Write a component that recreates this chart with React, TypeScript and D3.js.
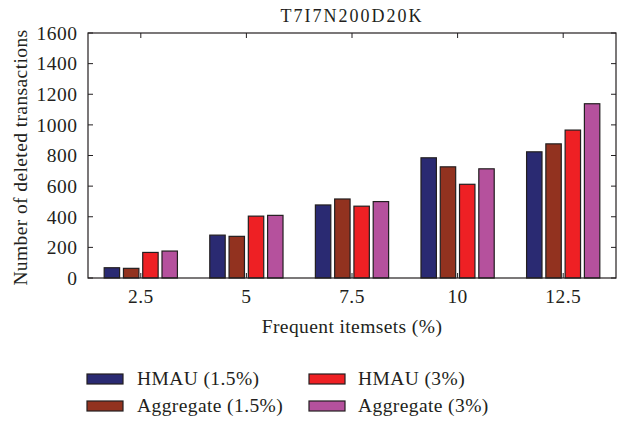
import React, { useEffect, useRef } from 'react';
import * as d3 from 'd3';

const categories = ['2.5', '5', '7.5', '10', '12.5'];
const seriesNames = ['HMAU (1.5%)', 'Aggregate (1.5%)', 'HMAU (3%)', 'Aggregate (3%)'];
const hmau15 = [67, 280, 477, 785, 824];
const aggregate15 = [63, 272, 516, 726, 876];
const hmau3 = [167, 404, 469, 612, 966];
const aggregate3 = [176, 409, 499, 713, 1138];
const yTicks = [0, 200, 400, 600, 800, 1000, 1200, 1400, 1600];
const colors = ['#2a2a72', '#92321f', '#ee2024', '#b5519d'];

const App: React.FC = () => {
	const svgRef = useRef<SVGSVGElement | null>(null);

	useEffect(() => {
		if (svgRef.current == null) return;

		const width = 617;
		const height = 422;
		const margin = { top: 33, right: 1, bottom: 144, left: 88 };
		const innerWidth = width - margin.left - margin.right;
		const innerHeight = height - margin.top - margin.bottom;
		const font = '"Liberation Serif", serif';
		const ink = '#231f20';
		const fs = 19.5;
		const ls = 0.4;

		const values = [hmau15, aggregate15, hmau3, aggregate3];

		const x0 = d3.scaleBand()
			.domain(categories)
			.range([0, innerWidth])
			.paddingInner(0.27)
			.paddingOuter(0.135);

		const x1 = d3.scaleBand()
			.domain(seriesNames)
			.range([0, x0.bandwidth()])
			.paddingInner(0.2)
			.paddingOuter(0.1);

		const yScale = d3.scaleLinear()
			.domain([0, 1600])
			.range([innerHeight, 0]);

		const svg = d3.select(svgRef.current);
		svg.selectAll('*').remove();
		svg.attr('width', width).attr('height', height);

		svg.append('text')
			.attr('x', margin.left + innerWidth / 2)
			.attr('y', 21.5)
			.attr('text-anchor', 'middle')
			.attr('font-family', font)
			.attr('font-size', 18)
			.attr('letter-spacing', 2)
			.attr('fill', ink)
			.text('T7I7N200D20K');

		const g = svg.append('g')
			.attr('transform', `translate(${margin.left},${margin.top})`);

		// bars
		seriesNames.forEach((name, si) => {
			g.append('g')
				.selectAll('rect')
				.data(values[si])
				.enter()
				.append('rect')
				.attr('x', (d, i) => (x0(categories[i]) || 0) + (x1(name) || 0))
				.attr('y', d => yScale(d))
				.attr('width', x1.bandwidth())
				.attr('height', d => innerHeight - yScale(d))
				.attr('fill', colors[si])
				.attr('stroke', ink)
				.attr('stroke-width', 1.2);
		});

		// frame
		g.append('rect')
			.attr('width', innerWidth)
			.attr('height', innerHeight)
			.attr('fill', 'none')
			.attr('stroke', ink)
			.attr('stroke-width', 1.2);

		const tickLen = 5;

		// y ticks, left and right (inward)
		yTicks.forEach(t => {
			const y = yScale(t);
			g.append('line').attr('x1', 0).attr('x2', tickLen).attr('y1', y).attr('y2', y)
				.attr('stroke', ink);
			g.append('line').attr('x1', innerWidth).attr('x2', innerWidth - tickLen).attr('y1', y).attr('y2', y)
				.attr('stroke', ink);
			g.append('text')
				.attr('x', -10.5)
				.attr('y', y)
				.attr('dy', '0.35em')
				.attr('text-anchor', 'end')
				.attr('font-family', font)
				.attr('font-size', fs)
				.attr('letter-spacing', 0.5)
				.attr('fill', ink)
				.text(t);
		});

		// x ticks, top and bottom (inward)
		categories.forEach(c => {
			const x = (x0(c) || 0) + x0.bandwidth() / 2;
			g.append('line').attr('x1', x).attr('x2', x).attr('y1', 0).attr('y2', tickLen)
				.attr('stroke', ink);
			g.append('line').attr('x1', x).attr('x2', x).attr('y1', innerHeight).attr('y2', innerHeight - tickLen)
				.attr('stroke', ink);
			g.append('text')
				.attr('x', x)
				.attr('y', innerHeight + 25)
				.attr('text-anchor', 'middle')
				.attr('font-family', font)
				.attr('font-size', fs)
				.attr('letter-spacing', ls)
				.attr('fill', ink)
				.text(c);
		});

		svg.append('text')
			.attr('x', margin.left + innerWidth / 2)
			.attr('y', 333)
			.attr('text-anchor', 'middle')
			.attr('font-family', font)
			.attr('font-size', fs)
			.attr('letter-spacing', ls)
			.attr('fill', ink)
			.text('Frequent itemsets (%)');

		svg.append('text')
			.attr('transform', `translate(27,${margin.top + innerHeight / 2 + 2}) rotate(-90)`)
			.attr('text-anchor', 'middle')
			.attr('font-family', font)
			.attr('font-size', fs)
			.attr('letter-spacing', ls)
			.attr('fill', ink)
			.text('Number of deleted transactions');

		// legend
		const legendPos = [
			{ x: 87, y: 374, tx: 137 },
			{ x: 87, y: 401, tx: 137 },
			{ x: 309, y: 374, tx: 358 },
			{ x: 309, y: 401, tx: 358 }
		];
		seriesNames.forEach((name, si) => {
			const p = legendPos[si];
			svg.append('rect')
				.attr('x', p.x)
				.attr('y', p.y)
				.attr('width', 36)
				.attr('height', 10)
				.attr('fill', colors[si])
				.attr('stroke', ink)
				.attr('stroke-width', 1.2);
			svg.append('text')
				.attr('x', p.tx)
				.attr('y', p.y + 10.5)
				.attr('font-family', font)
				.attr('font-size', fs)
				.attr('letter-spacing', ls)
				.attr('fill', ink)
				.text(name);
		});
	}, []);

	return (
		<svg ref={svgRef} style={{ position: 'absolute', left: 0, top: 0 }}></svg>
	);
};

export default App;
